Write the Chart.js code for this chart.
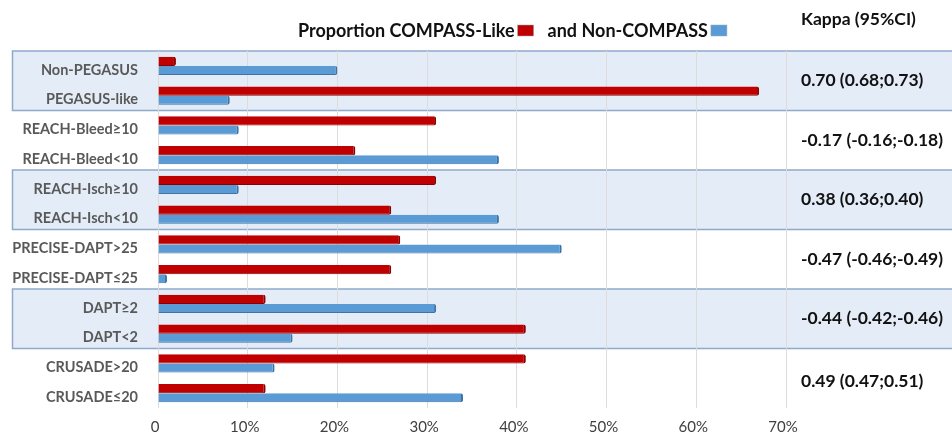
<!DOCTYPE html>
<html>
<head>
<meta charset="utf-8">
<script src="https://cdn.jsdelivr.net/npm/chart.js@4.4.1/dist/chart.umd.min.js"></script>
<style>
html,body{margin:0;padding:0;background:#fff;}
#wrap{width:952px;height:439px;position:relative;}
</style>
</head>
<body>
<div id="wrap"><canvas id="c" width="952" height="439"></canvas></div>
<script>
const categories = ['Non-PEGASUS','PEGASUS-like','REACH-Bleed≥10','REACH-Bleed<10','REACH-Isch≥10','REACH-Isch<10','PRECISE-DAPT>25','PRECISE-DAPT≤25','DAPT≥2','DAPT<2','CRUSADE>20','CRUSADE≤20'];
const compassLike = [2,67,31,22,31,26,27,26,12,41,41,12];
const nonCompass = [20,8,9,38,9,38,45,1,31,15,13,34];
const kappaLabels = ['0.70 (0.68;0.73)','-0.17 (-0.16;-0.18)','0.38 (0.36;0.40)','-0.47 (-0.46;-0.49)','-0.44 (-0.42;-0.46)','0.49 (0.47;0.51)'];
const shadedGroups = [0,2,4];
const xTicks = [0,10,20,30,40,50,60,70];
const seriesLabels = ['Proportion COMPASS-Like','and Non-COMPASS'];
const kappaTitle = 'Kappa (95%CI)';

const FONT = 'Lato, "Open Sans", sans-serif';

const bandsPlugin = {
  id:'bands',
  beforeDraw(chart){
    const {ctx, scales:{y}} = chart;
    const half = (y.getPixelForValue(1)-y.getPixelForValue(0))/2;
    ctx.save();
    const bounds = [];
    for(let g=0; g<=categories.length/2; g++){
      bounds.push(y.getPixelForValue(g*2) - half);
    }
    shadedGroups.forEach(g=>{
      const t = bounds[g], b = bounds[g+1];
      ctx.fillStyle = '#e4edf7';
      ctx.fillRect(12, t, chart.width-12, b-t);
      ctx.strokeStyle = '#8ea9ca';
      ctx.lineWidth = 1.5;
      ctx.beginPath();
      ctx.moveTo(chart.width, t); ctx.lineTo(12.5, t); ctx.lineTo(12.5, b); ctx.lineTo(chart.width, b);
      ctx.stroke();
    });
    ctx.restore();
  },
  afterDraw(chart){
    const {ctx, scales:{y}} = chart;
    ctx.save();
    ctx.fillStyle = '#111';
    ctx.font = 'bold 17.5px ' + FONT;
    ctx.textBaseline = 'middle';
    ctx.textAlign = 'left';
    kappaLabels.forEach((t,i)=>{
      const yc = (y.getPixelForValue(i*2) + y.getPixelForValue(i*2+1))/2;
      ctx.fillText(t, 801, yc + (i===5?3:0));
    });
    ctx.fillText(kappaTitle, 801, 19);
    // legend
    ctx.font = 'bold 18px ' + FONT;
    const ds = chart.data.datasets;
    let x = 298;
    const ly = 31;
    ds.forEach((d,i)=>{
      ctx.fillStyle = '#111';
      ctx.fillText(d.label, x, ly);
      x += ctx.measureText(d.label).width + 3;
      ctx.fillStyle = d.backgroundColor;
      ctx.fillRect(x, ly-6, 16, 11);
      ctx.strokeStyle = '#9ab';
      ctx.lineWidth = 0.5;
      ctx.strokeRect(x, ly-6, 16, 11);
      x += 16 + 14;
    });
    ctx.restore();
  }
};

new Chart(document.getElementById('c'), {
  type:'bar',
  data:{
    labels: categories,
    datasets:[
      {label: seriesLabels[0], data: compassLike, backgroundColor:'#c00000', borderColor:'#8a0000', borderWidth:{right:2,top:0,bottom:1,left:0}, borderRadius:2, borderSkipped:'left', categoryPercentage:0.62, barPercentage:1},
      {label: seriesLabels[1], data: nonCompass, backgroundColor:'#5b9bd5', borderColor:'#3f73a6', borderWidth:{right:2,top:0,bottom:1,left:0}, borderRadius:2, borderSkipped:'left', categoryPercentage:0.62, barPercentage:1}
    ]
  },
  options:{
    indexAxis:'y',
    responsive:false,
    animation:false,
    layout:{padding:{top:51,right:166,bottom:0,left:0}},
    plugins:{legend:{display:false}, tooltip:{enabled:false}},
    scales:{
      x:{
        min:0, max:70,
        afterBuildTicks(s){ s.ticks = xTicks.map(v=>({value:v})); },
        afterFit(s){ s.height = 31; },
        grid:{color:'#dcdcdc', lineWidth:1, drawTicks:false},
        border:{display:false},
        ticks:{padding:10, labelOffset:-3, color:'#404040', font:{family:FONT, size:15}, callback:(v)=> v===0 ? '0' : v+'%'}
      },
      y:{
        afterFit(s){ s.width = 158; },
        grid:{display:false},
        border:{display:false},
        ticks:{padding:12, labelOffset:4, color:'#595959', font:{family:FONT, size:14.5, weight:'bold'}}
      }
    }
  },
  plugins:[bandsPlugin]
});
</script>
</body>
</html>
